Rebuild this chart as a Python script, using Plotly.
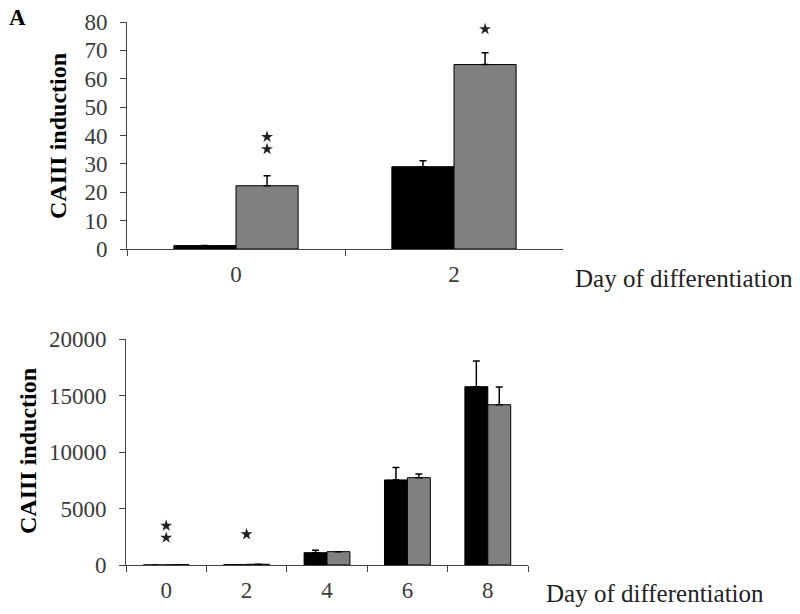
import plotly.graph_objects as go

# ---- data ----
days_top = ["0", "2"]
ctrl_top = [1.2, 29.0]
ctrl_top_err = [0, 2.1]
treat_top = [22.3, 65.0]
treat_top_err = [3.5, 4.2]

days_bot = ["0", "2", "4", "6", "8"]
ctrl_bot = [1.2, 29.0, 1090, 7540, 15800]
ctrl_bot_err = [0, 2.1, 210, 1090, 2280]
treat_bot = [22.3, 65.0, 1180, 7740, 14200]
treat_bot_err = [3.5, 4.2, 0, 330, 1570]

# significance stars: (category index, series offset: 0 = centre, 1 = treated bar, y value)
stars_top = [(0, 1, 35.2), (0, 1, 39.5), (1, 1, 77.5)]
stars_bot = [(0, 0, 2420), (0, 0, 3480), (1, 0, 2720)]

y_title = "CAIII induction"
x_title = "Day of differentiation"
panel_label = "A"

BARGAP = 0.43
FONT = "Liberation Serif, Times New Roman, serif"
TICKC = "#3a3a3a"
AXC = "#444444"
FS = 23

W, H = 800, 614
def PX(x): return x / W
def PY(y): return 1 - y / H

fig = go.Figure()

def add_bars(x, c, ce, t, te, xa, ya):
    fig.add_trace(go.Bar(x=x, y=c, marker=dict(color="black", line=dict(color="black", width=1)),
                         error_y=dict(type="data", array=ce, arrayminus=[0]*len(ce), symmetric=False,
                                      color="black", thickness=1.5, width=3.5),
                         offsetgroup="c", xaxis=xa, yaxis=ya, showlegend=False))
    fig.add_trace(go.Bar(x=x, y=t, marker=dict(color="#808080", line=dict(color="black", width=1)),
                         error_y=dict(type="data", array=te, arrayminus=[0]*len(te), symmetric=False,
                                      color="black", thickness=1.5, width=3.5),
                         offsetgroup="t", xaxis=xa, yaxis=ya, showlegend=False))

add_bars(days_top, ctrl_top, ctrl_top_err, treat_top, treat_top_err, "x", "y")
add_bars(days_bot, ctrl_bot, ctrl_bot_err, treat_bot, treat_bot_err, "x2", "y2")

barw = (1 - BARGAP) / 2
for stars, xr, yr in [(stars_top, "x3", "y"), (stars_bot, "x4", "y2")]:
    fig.add_trace(go.Scatter(x=[i + s * barw / 2 for i, s, _ in stars], y=[v for _, _, v in stars],
                             mode="markers", xaxis=xr, yaxis=yr, showlegend=False,
                             marker=dict(symbol="star", size=9, color="#222", line=dict(width=0))))

axis_common = dict(showline=True, linecolor=AXC, linewidth=1, ticks="outside", ticklen=6,
                   tickcolor=AXC, showgrid=False, zeroline=False, automargin=False,
                   tickfont=dict(family=FONT, size=FS, color=TICKC))
hidden = dict(visible=False, showgrid=False, zeroline=False, automargin=False)

xd_top = [PX(127), PX(563)]
xd_bot = [PX(126), PX(528)]

fig.update_layout(
    width=W, height=H, margin=dict(l=0, r=0, t=0, b=0),
    plot_bgcolor="white", paper_bgcolor="white",
    barmode="group", bargap=BARGAP, bargroupgap=0,
    xaxis=dict(domain=xd_top, anchor="y", type="category", tickson="boundaries",
               ticklabelstandoff=4, **axis_common),
    yaxis=dict(domain=[PY(249), PY(22)], anchor="x", range=[0, 80], dtick=10,
               ticklabelstandoff=8, **axis_common),
    xaxis2=dict(domain=xd_bot, anchor="y2", type="category", tickson="boundaries",
                ticklabelstandoff=4, **axis_common),
    yaxis2=dict(domain=[PY(565), PY(339.3)], anchor="x2", range=[0, 20000], dtick=5000,
                tickformat="d", ticklabelstandoff=8, **axis_common),
    xaxis3=dict(domain=xd_top, anchor="y", overlaying="x", range=[-0.5, len(days_top) - 0.5], **hidden),
    xaxis4=dict(domain=xd_bot, anchor="y2", overlaying="x2", range=[-0.5, len(days_bot) - 0.5], **hidden),
)

# text labels
fig.add_annotation(x=PX(17), y=PY(17), xref="paper", yref="paper", text="<b>%s</b>" % panel_label,
                   xanchor="center", yanchor="middle",
                   showarrow=False, font=dict(family=FONT, size=23, color="black"))
for xc, yc in [(58, 136), (28, 451)]:
    fig.add_annotation(x=PX(xc), y=PY(yc), xref="paper", yref="paper", text="<b>%s</b>" % y_title,
                       xanchor="center", yanchor="middle",
                       textangle=-90, showarrow=False, font=dict(family=FONT, size=24, color="black"))
for xl, yc in [(573, 278), (544, 593)]:
    fig.add_annotation(x=PX(xl), y=PY(yc), xref="paper", yref="paper", text=x_title,
                       xanchor="left", yanchor="middle",
                       showarrow=False, font=dict(family=FONT, size=25, color="#222"))

fig.write_html("out.html", config={"displayModeBar": False},
               post_script="document.body.style.margin='0';")
